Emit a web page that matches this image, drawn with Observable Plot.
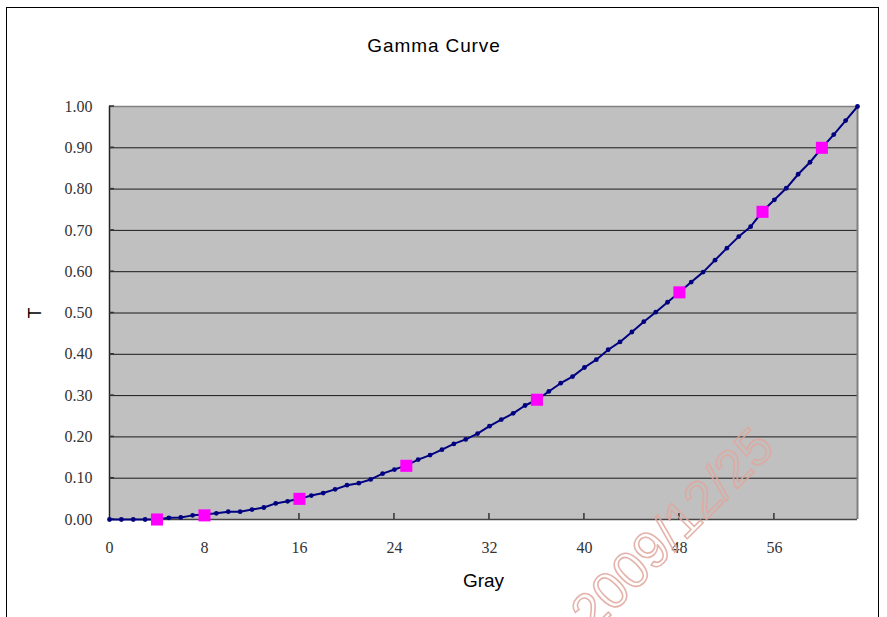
<!DOCTYPE html>
<html>
<head>
<meta charset="utf-8">
<script src="https://cdn.jsdelivr.net/npm/d3@7"></script>
<script src="https://cdn.jsdelivr.net/npm/@observablehq/plot@0.6"></script>
<style>
  html, body { margin: 0; padding: 0; background: #fff; overflow: hidden; }
  #wrap { position: relative; width: 887px; height: 617px; overflow: hidden; }
  #frame { position: absolute; left: 6px; top: 7px; width: 873px; height: 640px; border: 1px solid #000; box-sizing: border-box; pointer-events: none; }
  #title { position: absolute; left: 0; top: 35px; width: 868px; text-align: center; font: 19px "Liberation Sans", Arial, sans-serif; letter-spacing: 0.9px; color: #000; }
  #chart { position: absolute; left: 0; top: 70px; }
  #wm { position: absolute; left: 0; top: 0; pointer-events: none; }
</style>
</head>
<body>
<div id="wrap">
  <div id="frame"></div>
  <div id="title">Gamma Curve</div>
  <div id="chart"></div>
  <svg id="wm" width="887" height="617"></svg>
</div>
<script>
const gray = d3.range(0, 64);
const tValues = [
  0, 0, 0, 0, 0, 0.004, 0.005, 0.01, 0.012, 0.015,
  0.019, 0.019, 0.024, 0.029, 0.039, 0.044, 0.05, 0.058, 0.064, 0.073,
  0.083, 0.088, 0.097, 0.111, 0.121, 0.131, 0.145, 0.156, 0.169, 0.183,
  0.194, 0.208, 0.226, 0.242, 0.257, 0.276, 0.29, 0.31, 0.33, 0.346,
  0.368, 0.387, 0.411, 0.43, 0.454, 0.479, 0.502, 0.526, 0.55, 0.575,
  0.599, 0.628, 0.657, 0.685, 0.709, 0.746, 0.774, 0.802, 0.836, 0.865,
  0.9, 0.932, 0.966, 1.0
];
const keyGray = [4, 8, 16, 25, 36, 48, 55, 60];
const keyT = [0, 0.01, 0.05, 0.13, 0.29, 0.55, 0.745, 0.9];
const xTicks = [0, 8, 16, 24, 32, 40, 48, 56];
const yTicks = [0, 0.1, 0.2, 0.3, 0.4, 0.5, 0.6, 0.7, 0.8, 0.9, 1.0];

const curve = gray.map((g, i) => ({g, t: tValues[i]}));
const keys = keyGray.map((g, i) => ({g, t: keyT[i]}));

const plot = Plot.plot({
  width: 887,
  height: 547,
  marginLeft: 109,
  marginRight: 30,
  marginTop: 36,
  marginBottom: 98,
  x: {type: "linear", domain: [0, 63]},
  y: {type: "linear", domain: [0, 1]},
  style: {background: "transparent", overflow: "visible"},
  marks: [
    Plot.rect([0], {x1: 0, x2: 63, y1: 0, y2: 1, fill: "#c0c0c0"}),
    Plot.ruleY(yTicks.filter(v => v > 0 && v < 1), {stroke: "#1a1a1a", strokeWidth: 1}),
    Plot.ruleY([1], {stroke: "#808080", strokeWidth: 1.5}),
    Plot.ruleX([63], {stroke: "#808080", strokeWidth: 2}),
    Plot.ruleX([0], {stroke: "#222", strokeWidth: 1.5}),
    Plot.ruleY([0], {stroke: "#444", strokeWidth: 1.5}),
    Plot.axisY({ticks: yTicks, tickSize: 0, tickPadding: 17, tickFormat: d3.format(".2f"), fontSize: 16, fontFamily: "Liberation Serif, serif", fill: "#333", label: null}),
    Plot.axisX({ticks: xTicks, tickSize: 0, tickPadding: 22, fontSize: 16, fontFamily: "Liberation Serif, serif", fill: "#333", label: null}),
    Plot.text(["Gray"], {x: 31.5, y: 0, dy: 61, text: d => d, fontSize: 19, fontFamily: "Liberation Sans, Arial, sans-serif", fill: "#000"}),
    Plot.text(["T"], {x: 0, y: 0.5, dx: -74, text: d => d, rotate: -90, fontSize: 18, fontFamily: "Liberation Sans, Arial, sans-serif", fill: "#000"}),
    Plot.line(curve, {x: "g", y: "t", stroke: "#000080", strokeWidth: 2}),
    Plot.dot(curve, {x: "g", y: "t", r: 2.4, fill: "#000080", stroke: "none"}),
    Plot.dot(keys, {x: "g", y: "t", symbol: "square", r: 6.8, fill: "#ff00ff", stroke: "none"})
  ]
});
document.getElementById("chart").appendChild(plot);

// inward tick marks drawn with the plot's own scales
const sx = plot.scale("x"), sy = plot.scale("y");
const svg = d3.select(plot);
const tg = svg.append("g").attr("stroke", "#333").attr("stroke-width", 1.5);
yTicks.forEach(v => {
  const x0 = sx.apply(0), y0 = sy.apply(v);
  tg.append("line").attr("x1", x0).attr("x2", x0 + 5).attr("y1", y0).attr("y2", y0);
});
xTicks.filter(v => v > 0).forEach(v => {
  const x0 = sx.apply(v), y0 = sy.apply(0);
  tg.append("line").attr("x1", x0).attr("x2", x0).attr("y1", y0).attr("y2", y0 - 6);
});
// keep the curve above the tick marks
svg.selectAll("g[aria-label='line'], g[aria-label='dot']").raise();

// watermark (outlined, rotated text)
d3.select("#wm").append("text")
  .attr("transform", "translate(574,652) rotate(-45)")
  .attr("font-family", "Liberation Sans, Arial, sans-serif")
  .attr("font-size", 52)
  .attr("fill", "none")
  .attr("stroke", "#e0a89e")
  .attr("stroke-width", 1.6)
  .attr("opacity", 0.85)
  .text("l 2009/12/25");
</script>
</body>
</html>
